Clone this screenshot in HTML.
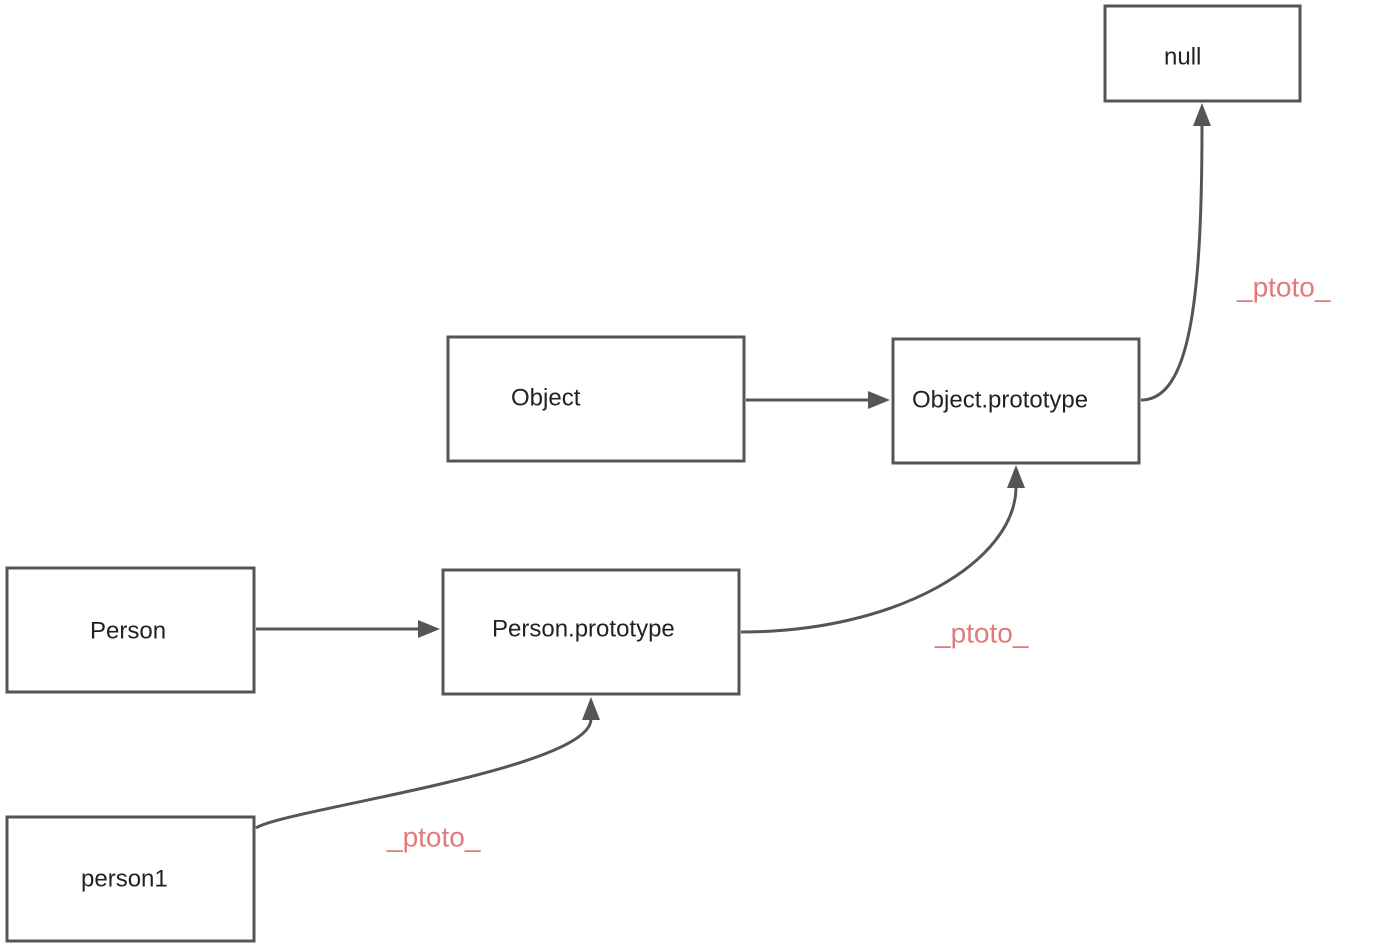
<!DOCTYPE html>
<html><head><style>body{margin:0;background:#fff}</style></head><body>
<svg width="1392" height="947" viewBox="0 0 1392 947" xmlns="http://www.w3.org/2000/svg" style="display:block">
<defs><marker id="a" markerWidth="8" markerHeight="8" refX="7" refY="4" orient="auto" markerUnits="userSpaceOnUse" viewBox="0 0 8 8"><path d="M0,0L8,4L0,8z" fill="#555"/></marker></defs>
<g fill="#fff" stroke="#555" stroke-width="3">
<rect x="1105" y="6" width="195" height="95"/>
<rect x="448" y="337" width="296" height="124"/>
<rect x="893" y="339" width="246" height="124"/>
<rect x="7" y="568" width="247" height="124"/>
<rect x="443" y="570" width="296" height="124"/>
<rect x="7" y="817" width="247" height="124"/>
</g>
<g fill="none" stroke="#555" stroke-width="3">
<path d="M746,400L872,400"/>
<path d="M256,629L422,629"/>
<path d="M1141,400C1190,400 1202,300 1202,124"/>
<path d="M741,632C900,632 1016,560 1016,487"/>
<path d="M256,828C280,810 591,770 591,719"/>
</g>
<g fill="#555">
<path d="M890,400L868,391L868,409z"/>
<path d="M440,629L418,620L418,638z"/>
<path d="M1202,103L1193,126L1211,126z"/>
<path d="M1016,465L1007,488L1025,488z"/>
<path d="M591,697L582,720L600,720z"/>
</g>
<g font-family="Liberation Sans, sans-serif" font-size="24" fill="#222" dominant-baseline="central">
<text x="1164" y="57">null</text>
<text x="511" y="398">Object</text>
<text x="912" y="400">Object.prototype</text>
<text x="90" y="631">Person</text>
<text x="492" y="629">Person.prototype</text>
<text x="81" y="879">person1</text>
</g>
<g font-family="Liberation Sans, sans-serif" font-size="28" fill="#e07b7b" dominant-baseline="central">
<text x="1237" y="287">_ptoto_</text>
<text x="935" y="633">_ptoto_</text>
<text x="387" y="837">_ptoto_</text>
</g>
</svg>
</body></html>
